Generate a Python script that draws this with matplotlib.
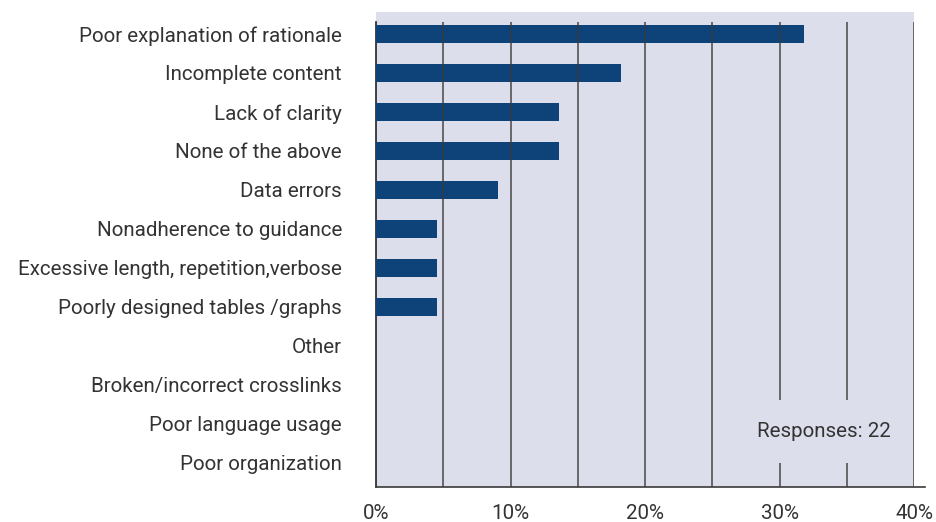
import matplotlib
matplotlib.use("Agg")
import matplotlib.pyplot as plt
from matplotlib.patches import Rectangle

categories = [
    "Poor explanation of rationale",
    "Incomplete content",
    "Lack of clarity",
    "None of the above",
    "Data errors",
    "Nonadherence to guidance",
    "Excessive length, repetition,verbose",
    "Poorly designed tables /graphs",
    "Other",
    "Broken/incorrect crosslinks",
    "Poor language usage",
    "Poor organization",
]
values = [31.8, 18.2, 13.6, 13.6, 9.1, 4.5, 4.5, 4.5, 0, 0, 0, 0]
xticks = [0, 10, 20, 30, 40]
xticklabels = ["0%", "10%", "20%", "30%", "40%"]
gridlines = [5, 10, 15, 20, 25, 30, 35, 40]
note = "Responses: 22"

plt.rcParams['font.family'] = ['Roboto', 'DejaVu Sans']
text_color = "#333333"
bg = "#dcdeec"
bar_color = "#0e437a"
fs = 14.8

fig = plt.figure(figsize=(9.36, 5.22), dpi=100)
ax = fig.add_axes([376/936, 1-487/522, 538/936, 475/522])
ax.set_facecolor(bg)

y = list(range(len(categories)))
ax.barh(y, values, height=0.47, color=bar_color, edgecolor="none", zorder=2)
ax.vlines(gridlines, -0.31, 11.62, colors="#3a3a3a", linewidth=1.2, alpha=0.85, zorder=3)

ax.set_xlim(0, 40)
ax.set_ylim(11.62, -0.56)
ax.set_yticks(y)
ax.set_yticklabels(categories, fontsize=fs, color=text_color)
ax.set_xticks(xticks)
ax.set_xticklabels(xticklabels, fontsize=fs, color=text_color)
ax.tick_params(axis="both", length=0)
ax.tick_params(axis="x", pad=12)
ax.tick_params(axis="y", pad=24.5)
for s in ["top", "right", "bottom"]:
    ax.spines[s].set_visible(False)
ax.spines["left"].set_color("#222222")
ax.spines["left"].set_linewidth(1.2)
ax.spines["left"].set_zorder(1)
ax.spines["left"].set_bounds(-0.31, 11.62)

ax.plot([0, 1.02], [0, 0], transform=ax.transAxes, color="#3a3a3a", linewidth=1.2,
        clip_on=False, zorder=4)

ax.add_patch(Rectangle((0.677, 0.0505), 0.297, 0.1325, transform=ax.transAxes,
                       facecolor=bg, edgecolor="none", zorder=5))
ax.text(0.832, 0.117, note, transform=ax.transAxes, ha="center", va="center",
        fontsize=fs, color=text_color, zorder=6)

fig.savefig("out.png", dpi=100)
